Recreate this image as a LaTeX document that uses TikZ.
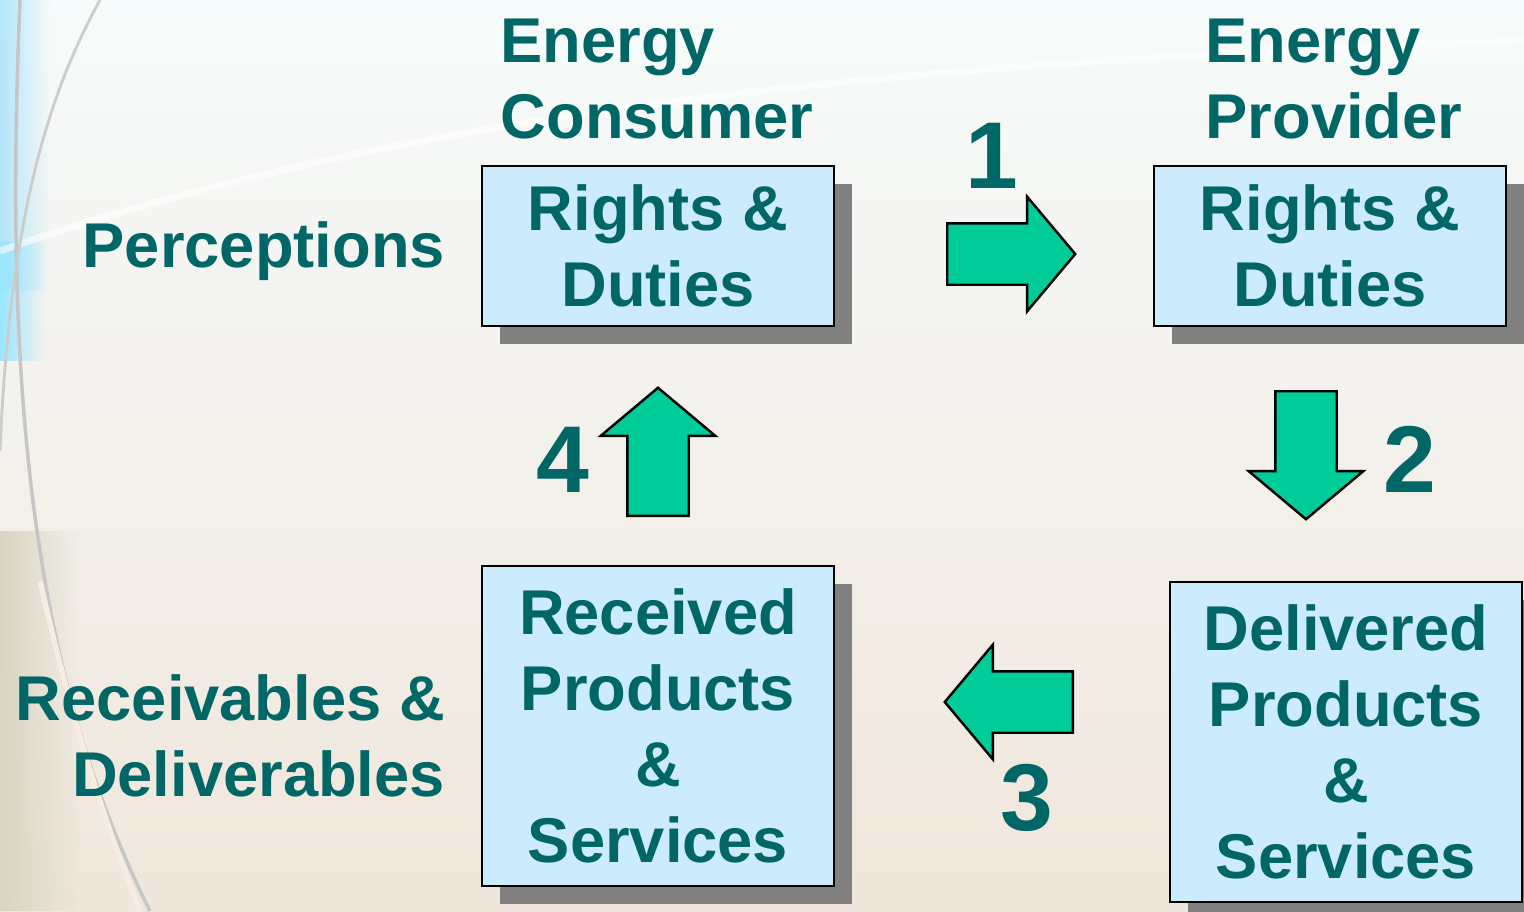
\documentclass[tikz,border=0pt]{standalone}
\usepackage{fontspec}
\setmainfont{Liberation Sans}
\usetikzlibrary{positioning}
\usetikzlibrary{shapes.arrows}
\usetikzlibrary{shadows}
\usetikzlibrary{fadings}

\definecolor{darkteal}{HTML}{006666}
\definecolor{boxblue}{HTML}{CCEBFC}
\definecolor{flowgreen}{HTML}{00CC99}
\definecolor{shadowgray}{HTML}{808080}
\definecolor{bgtop}{HTML}{F6FBFB}
\definecolor{bgmid}{HTML}{F5F5EF}
\definecolor{bgbot}{HTML}{F0E6DB}
\definecolor{bgleaf}{HTML}{D8D5C2}

\tikzset{
  lbl/.style={text=darkteal, inner sep=0pt, font=\bfseries\fontsize{18}{21.6}\selectfont},
  box/.style={lbl, draw=black, line width=0.8pt, fill=boxblue, align=center,
    minimum width=3.52cm,
    drop shadow={shadow xshift=0.18cm, shadow yshift=-0.18cm, fill=shadowgray, opacity=1}},
  flow/.style={single arrow, draw=black, line width=0.7pt, fill=flowgreen,
    inner xsep=0pt, inner ysep=0.295cm, anchor=tail,
    minimum height=1.28cm, minimum width=1.12cm,
    single arrow head extend=0.265cm, single arrow tip angle=100},
  num/.style={text=darkteal, inner sep=0pt, anchor=base, font=\bfseries\fontsize{27}{30}\selectfont}
}

\begin{document}
\begin{tikzpicture}
        \useasboundingbox (0,0) rectangle (15.24,9.11);
        \clip (0,0) rectangle (15.24,9.11);

        % background
        \shade[top color=bgtop, middle color=bgmid, bottom color=bgbot]
          (0,0) rectangle (15.24,9.11);
        \fill[cyan!30!white, path fading=east] (0,6.2) rectangle (0.5,9.11);
        \fill[blue!25!cyan!40, path fading=east] (0,5.5) rectangle (0.45,6.7);
        \fill[bgleaf, path fading=east] (0,0) rectangle (0.8,3.8);
        \draw[white, line width=2pt, opacity=0.6] (0,6.6) .. controls (4,8.0) and (9,8.5) .. (15.24,8.7);
        \draw[gray!45, line width=1pt] (0.20,9.11) .. controls (0.05,5.5) and (0.25,2.5) .. (1.50,0);
        \draw[gray!40, line width=0.8pt] (1.00,9.11) .. controls (0.5,8.2) and (0.1,7) .. (0,4.6);
        \draw[white!85!brown, line width=1.5pt] (0.40,3.3) .. controls (0.7,2) and (1,1) .. (1.40,0);

        % boxes
        \node[box, minimum height=1.6cm] (cons) at (6.58,6.65) {Rights \&\\Duties};
        \node[box, minimum height=1.6cm] (prov) at (13.30,6.65) {Rights \&\\Duties};
        \node[box, minimum height=3.2cm] (recv) at (6.58,1.85) {Received\\Products\\\&\\Services};
        \node[box, minimum height=3.2cm] (deliv) at (13.46,1.69) {Delivered\\Products\\\&\\Services};

        % titles and side labels
        \node[lbl, align=left, anchor=south west] (ctitle) at (5.00,7.71) {Energy\\Consumer};
        \node[lbl, align=left, anchor=south west] (ptitle) at (12.05,7.71) {Energy\\Provider};
        \node[lbl, left=0.35cm of cons, yshift=-0.05cm] (percep) {Perceptions};
        \node[lbl, align=right, left=0.35cm of recv, yshift=-0.1cm] (recdel) {Receivables \&\\Deliverables};

        % flow arrows, placed by their tails
        \node[flow] (a1) at (9.46,6.57) {};
        \node[flow, rotate=-90] (a2) at (13.06,5.21) {};
        \node[flow, rotate=180] (a3) at (10.74,2.09) {};
        \node[flow, rotate=90] (a4) at (6.58,3.94) {};

        \node[num] (n1) at (9.92,7.23) {1};
        \node[num] (n2) at (14.10,4.19) {2};
        \node[num] (n3) at (10.27,0.81) {3};
        \node[num] (n4) at (5.63,4.19) {4};
      \end{tikzpicture}
\end{document}
